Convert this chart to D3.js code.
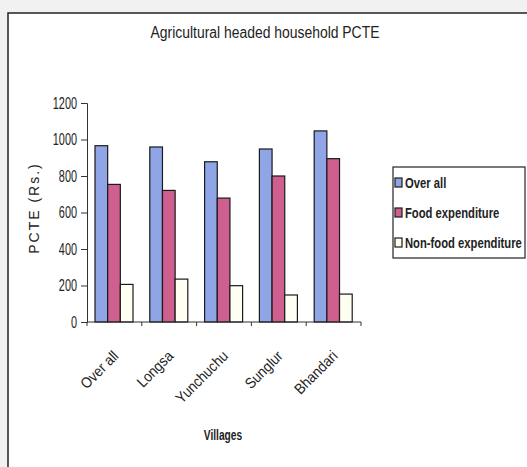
<!DOCTYPE html>
<html>
<head>
<meta charset="utf-8">
<script src="https://cdn.jsdelivr.net/npm/d3@7"></script>
<style>
  html, body { margin: 0; padding: 0; background: #f1f1f1; }
  svg { display: block; }
  text { font-family: "Liberation Sans", Arial, sans-serif; fill: #222; }
</style>
</head>
<body>
<script>
// Per capita total expenditure (Rs.) of agriculture-headed households by village
const villages = ["Over all", "Longsa", "Yunchuchu", "Sunglur", "Bhandari"];
const seriesNames = ["Over all", "Food expenditure", "Non-food expenditure"];
const overAll = [966, 959, 878, 948, 1047];
const foodExp = [754, 721, 679, 800, 895];
const nonFoodExp = [206, 235, 199, 148, 153];
const yTicks = [0, 200, 400, 600, 800, 1000, 1200];
const colors = ["#8fa5e6", "#cf5f8e", "#fffff2"];

const W = 527, H = 467;
const svg = d3.select("body").append("svg").attr("width", W).attr("height", H);

// condensed text: a horizontally squeezed label placed at (x, y)
function narrowText(parent, x, y, str, size, sx, opts = {}) {
  const g = parent.append("g").attr("transform", `translate(${x},${y})${opts.rotate ? ` rotate(${opts.rotate})` : ""} scale(${sx},1)`);
  const t = g.append("text").style("font-size", size + "px").text(str);
  if (opts.anchor) t.attr("text-anchor", opts.anchor);
  if (opts.bold) t.style("font-weight", "bold");
  if (opts.spacing) t.style("letter-spacing", opts.spacing);
  return t;
}

// chart area with frame
svg.append("rect").attr("x", 8).attr("y", 13).attr("width", W).attr("height", H)
  .attr("fill", "#fff").attr("stroke", "#222").attr("stroke-width", 1.5);

narrowText(svg, 265, 38, "Agricultural headed household PCTE", 16, 0.87, { anchor: "middle" });

const x = d3.scaleBand().domain(villages).range([87, 361]);
const y = d3.scaleLinear().domain([0, 1200]).range([322, 103]);
const inner = d3.scaleBand().domain(seriesNames).range([8, 46]);

const values = [overAll, foodExp, nonFoodExp];

// bars
const groups = svg.append("g").selectAll("g").data(villages).join("g")
  .attr("transform", d => `translate(${x(d)},0)`);
groups.each(function(v, i) {
  d3.select(this).selectAll("rect").data(seriesNames).join("rect")
    .attr("x", s => inner(s))
    .attr("width", inner.bandwidth())
    .attr("y", (s, j) => y(values[j][i]))
    .attr("height", (s, j) => y(0) - y(values[j][i]))
    .attr("fill", (s, j) => colors[j])
    .attr("stroke", "#1a1a1a").attr("stroke-width", 1.2);
});

// y axis
const ySx = 0.68;
const yAxis = svg.append("g").attr("transform", "translate(87,0)")
  .call(d3.axisLeft(y).tickValues(yTicks).tickFormat(d3.format("d")).tickSize(6).tickPadding(4));
yAxis.select(".domain").attr("stroke", "#333");
yAxis.selectAll("line").attr("stroke", "#333");
yAxis.selectAll("text").style("font-size", "16px").attr("fill", "#222")
  .attr("x", -10 / ySx).attr("transform", `scale(${ySx},1)`);

// x axis
const xAxis = svg.append("g").attr("transform", "translate(0,322)");
xAxis.append("line").attr("x1", 87).attr("x2", 361).attr("y1", 0).attr("y2", 0).attr("stroke", "#333");
const tickPos = villages.map(d => x(d)).concat([x.range()[1]]);
xAxis.selectAll("line.tk").data(tickPos).join("line").attr("class", "tk")
  .attr("x1", d => d).attr("x2", d => d)
  .attr("y1", 0).attr("y2", 4).attr("stroke", "#333");
villages.forEach(v => {
  narrowText(xAxis, x(v) + x.bandwidth() / 2 + 5, 35, v, 15, 0.9, { anchor: "end", rotate: -45 });
});

narrowText(svg, 223, 440, "Villages", 15, 0.68, { anchor: "middle", bold: true });

svg.append("text").attr("transform", "translate(39,208) rotate(-90)")
  .attr("text-anchor", "middle").style("font-size", "14px")
  .style("letter-spacing", "2px").text("PCTE (Rs.)");

// legend
const lg = svg.append("g");
lg.append("rect").attr("x", 393).attr("y", 167).attr("width", 132).attr("height", 91)
  .attr("fill", "#fff").attr("stroke", "#222").attr("stroke-width", 1.2);
const items = lg.selectAll("g").data(seriesNames).join("g")
  .attr("transform", (d, i) => `translate(395,${183 + i * 30})`);
items.append("rect").attr("x", 0).attr("y", -5).attr("width", 7).attr("height", 9)
  .attr("fill", (d, i) => colors[i]).attr("stroke", "#1a1a1a").attr("stroke-width", 1.2);
items.each(function(d) {
  narrowText(d3.select(this), 10, 5, d, 15, 0.75, { bold: true });
});
</script>
</body>
</html>
